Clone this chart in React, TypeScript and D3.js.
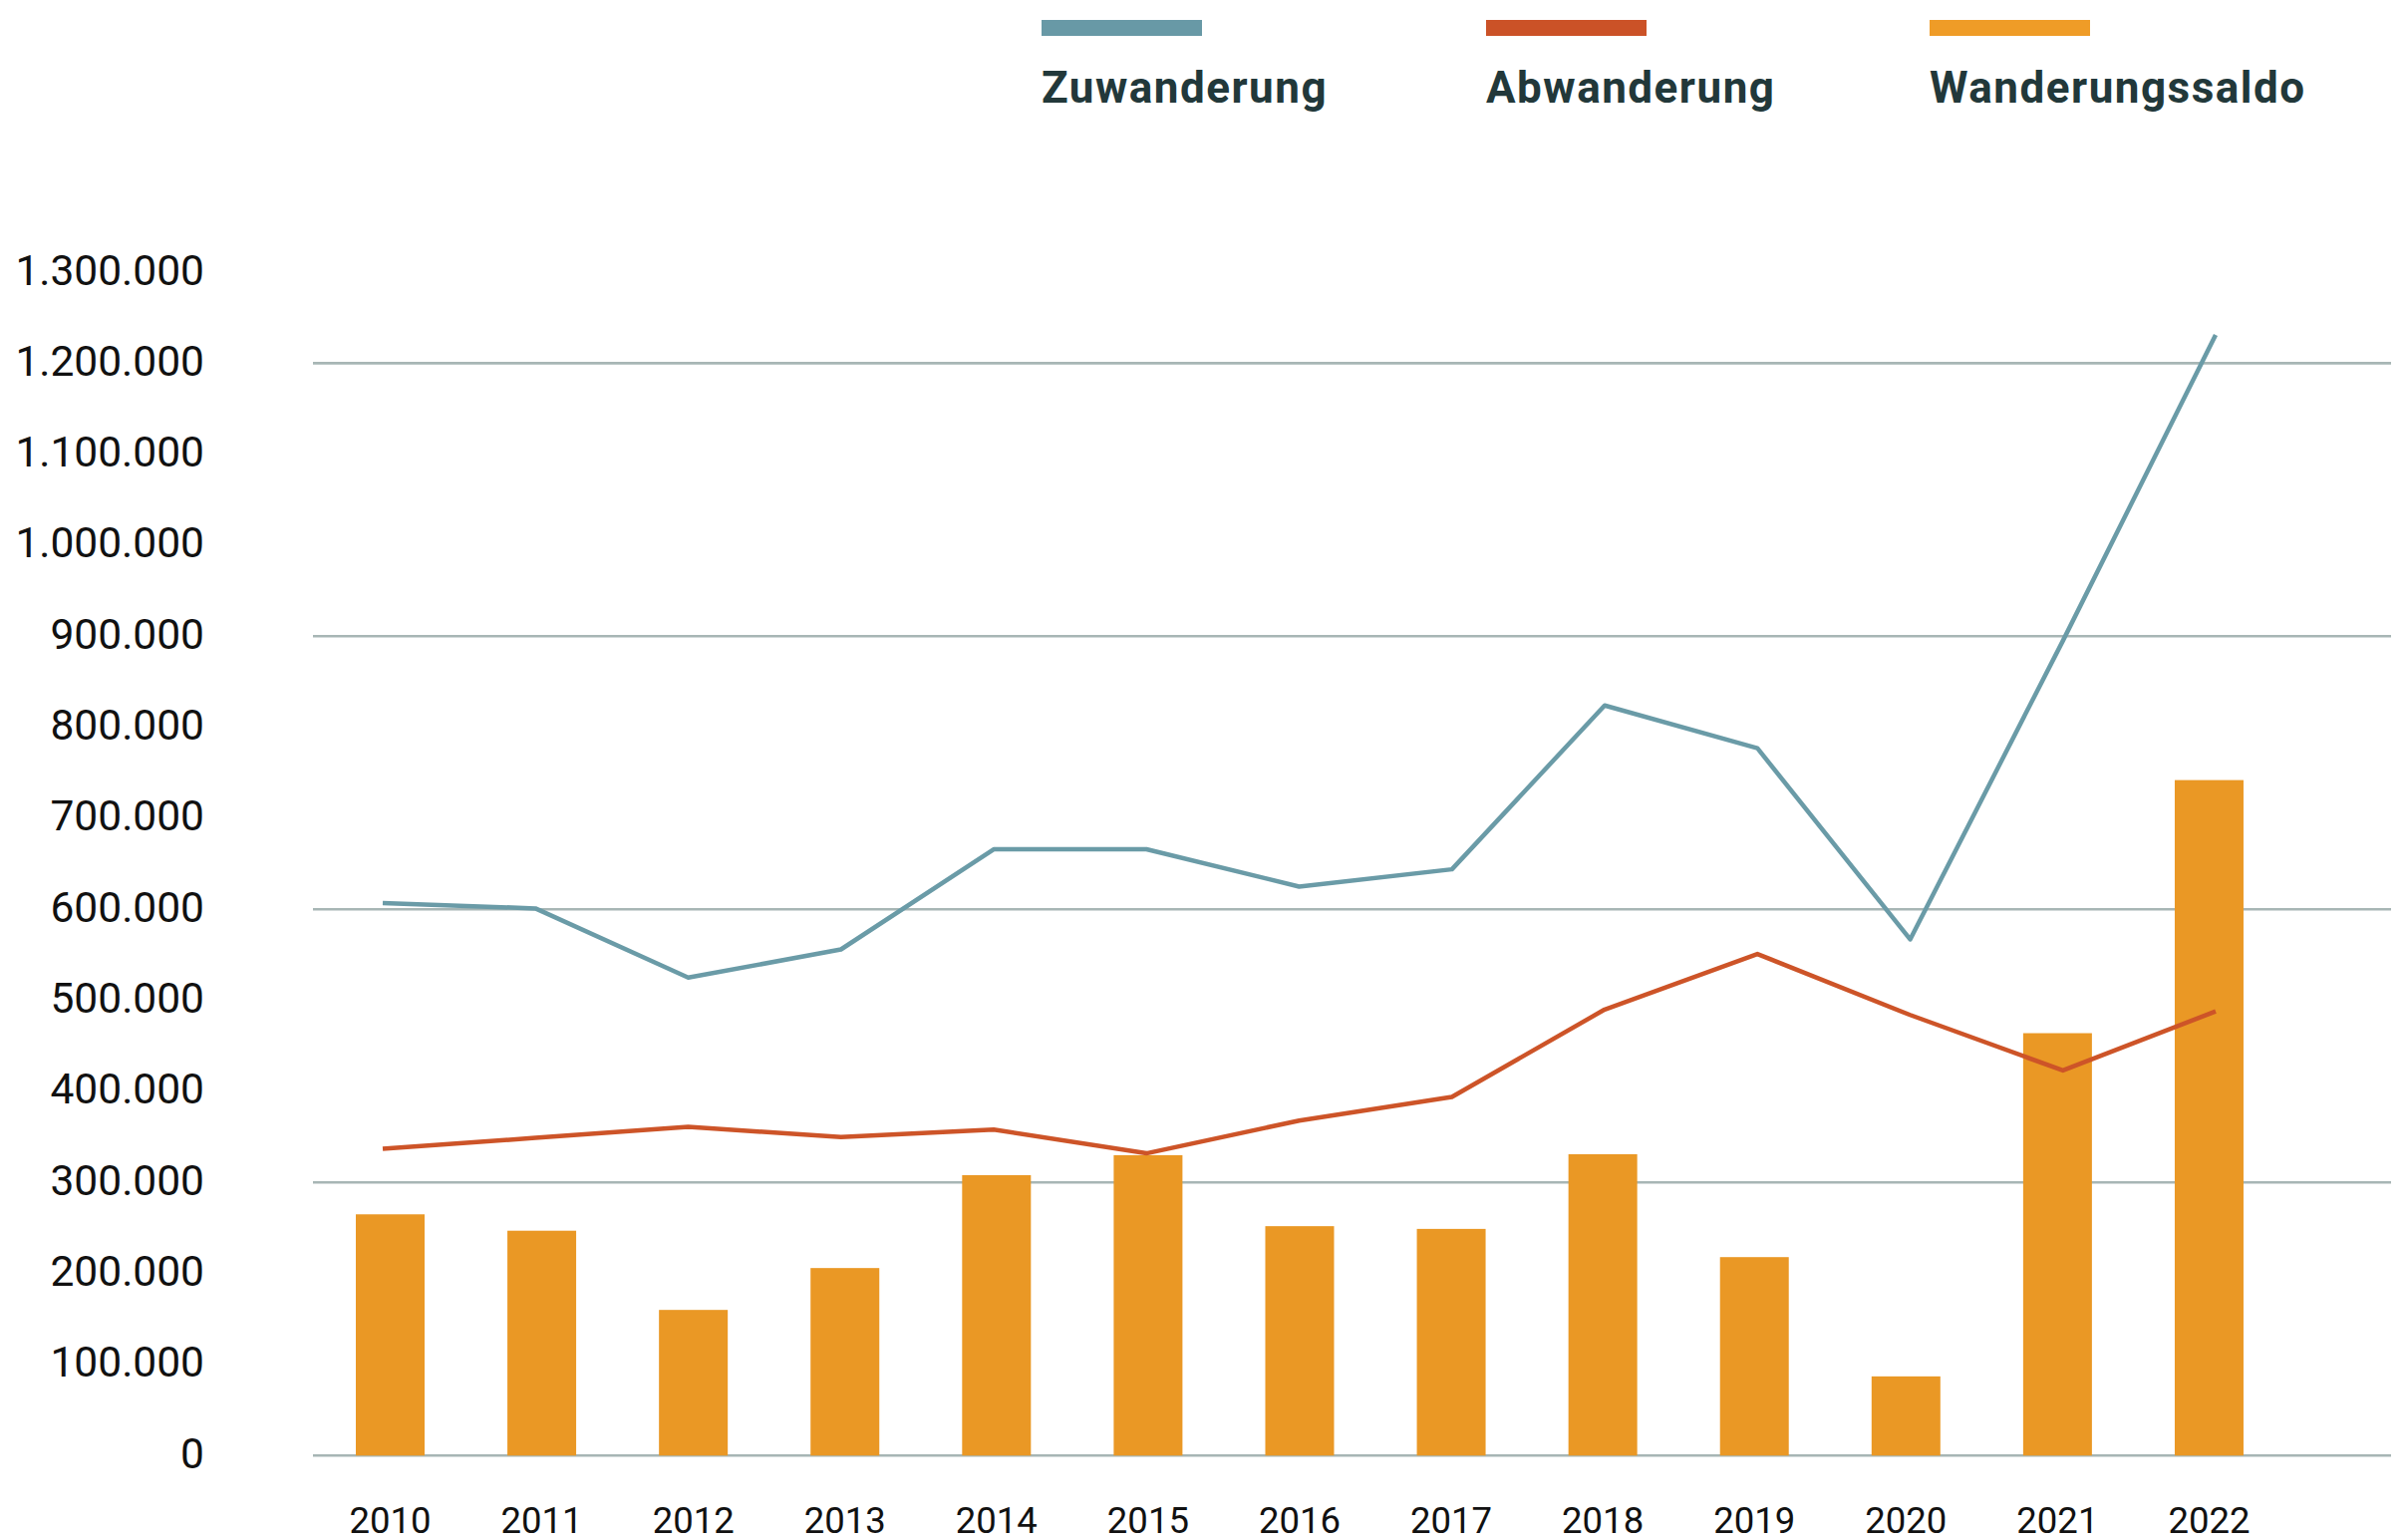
import React from 'react';
import * as d3 from 'd3';

const years = ['2010','2011','2012','2013','2014','2015','2016','2017','2018','2019','2020','2021','2022'];
const zuwanderung = [607000, 601000, 525000, 556000, 666000, 666000, 625000, 644000, 824000, 777000, 567000, 895000, 1231000];
const abwanderung = [337000, 349000, 361000, 350000, 358000, 332000, 368000, 394000, 490000, 551000, 484000, 423000, 488000];
const saldo = [265000, 247000, 160000, 206000, 308000, 330000, 252000, 249000, 331000, 218000, 87000, 464000, 742000];
const yTicks = [0,100000,200000,300000,400000,500000,600000,700000,800000,900000,1000000,1100000,1200000,1300000];
const gridTicks = [0, 300000, 600000, 900000, 1200000];
const legendItems = [
  { label: 'Zuwanderung', color: '#6899a6' },
  { label: 'Abwanderung', color: '#cb5227' },
  { label: 'Wanderungssaldo', color: '#ef9c27' },
];

const W = 2415, H = 1545;

export default function App() {
  const y = d3.scaleLinear().domain([0, 1300000]).range([1460.3, 273.0]);
  const step = 152.08;
  const x = d3.scaleBand<string>().domain(years)
    .range([391.5 - step / 2, 391.5 - step / 2 + 13 * step])
    .paddingInner(0.5463).paddingOuter(0.5463 / 2);
  const xl = d3.scalePoint<string>().domain(years).range([384, 2223]);
  const fmt = (v: number) => d3.format(',')(v).replace(/,/g, '.');
  const line = d3.line<number>().x((_, i) => xl(years[i])!).y(d => y(d)).curve(d3.curveLinear);
  const legendX = [1045, 1491, 1936];

  return (
    <svg width={W} height={H} style={{ position: 'absolute', left: 0, top: 0, display: 'block', background: '#fff' }}
      fontFamily="Roboto, 'Noto Sans', sans-serif">
      {legendItems.map((it, i) => (
        <g key={it.label}>
          <rect x={legendX[i]} y={20} width={161} height={16} fill={it.color} />
          <text x={legendX[i]} y={102.7} fontSize={44} fontWeight={700} letterSpacing={1.5} fill="#22383a">{it.label}</text>
        </g>
      ))}
      {gridTicks.map(t => (
        <line key={t} x1={314} x2={2399} y1={y(t)} y2={y(t)} stroke="#a7b6b5" strokeWidth={2.6} />
      ))}
      {yTicks.map(t => (
        <text key={t} x={205} y={y(t) + 12.5} textAnchor="end" fontSize={42.5} fill="#111">{fmt(t)}</text>
      ))}
      {years.map((yr, i) => (
        <rect key={yr} x={x(yr)} y={y(saldo[i])} width={x.bandwidth()} height={y(0) - y(saldo[i])} fill="#ea9825" />
      ))}
      <path d={line(abwanderung)!} fill="none" stroke="#cd5428" strokeWidth={4.5} strokeLinejoin="round" />
      <path d={line(zuwanderung)!} fill="none" stroke="#6a9ba7" strokeWidth={4.5} strokeLinejoin="round" />
      {years.map(yr => (
        <text key={yr} x={x(yr)! + x.bandwidth() / 2} y={1537.5} textAnchor="middle" fontSize={36.5} fill="#111">{yr}</text>
      ))}
    </svg>
  );
}
